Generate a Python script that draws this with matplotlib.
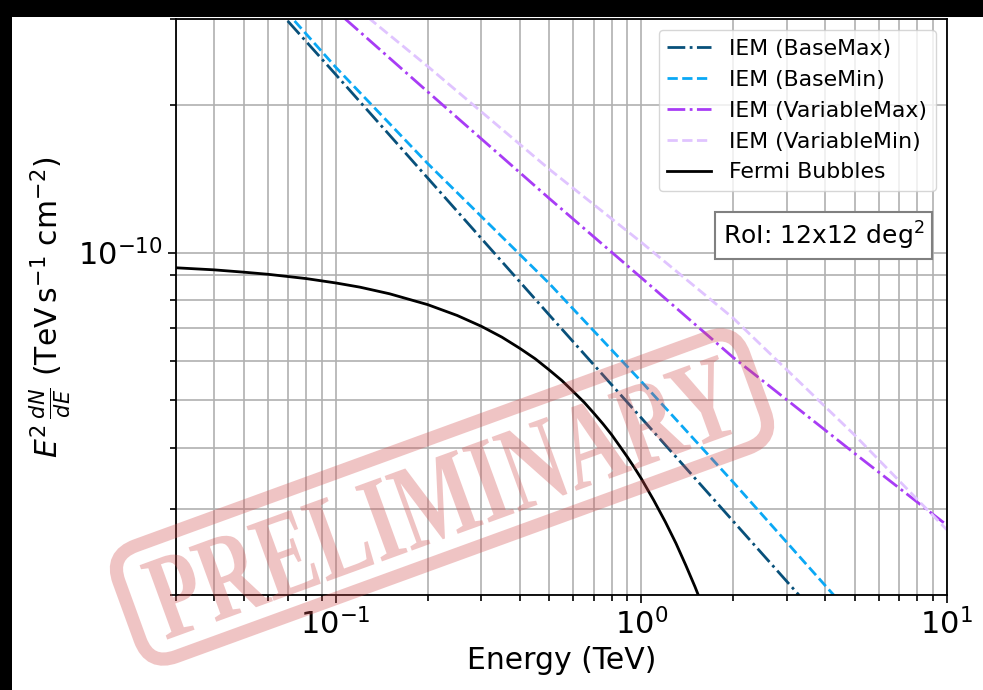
import matplotlib
matplotlib.use('Agg')
import matplotlib.pyplot as plt
from matplotlib.patches import Rectangle, PathPatch, FancyBboxPatch
from matplotlib.textpath import TextPath
from matplotlib.font_manager import FontProperties
from matplotlib.transforms import Affine2D
from matplotlib.ticker import NullFormatter

energy_iem = [0.03, 0.05, 0.07, 0.1, 0.2, 0.5, 1.0, 2.0, 5.0, 10.0]
base_max = [5.36e-10, 3.74e-10, 2.96e-10, 2.31e-10, 1.42e-10, 7.46e-11, 4.60e-11, 2.83e-11, 1.49e-11, 9.18e-12]
base_min = [5.56e-10, 3.88e-10, 3.07e-10, 2.39e-10, 1.52e-10, 8.65e-11, 5.46e-11, 3.40e-11, 1.79e-11, 1.09e-11]
variable_max = [6.04e-10, 4.56e-10, 3.79e-10, 3.12e-10, 2.13e-10, 1.29e-10, 8.89e-11, 6.11e-11, 3.89e-11, 2.78e-11]
variable_min = [6.20e-10, 4.85e-10, 4.10e-10, 3.42e-10, 2.40e-10, 1.48e-10, 1.05e-10, 7.35e-11, 4.24e-11, 2.72e-11]

# Fermi bubbles spectrum
energy_fb = [0.03, 0.04, 0.05, 0.06, 0.08, 0.1, 0.12, 0.15, 0.2, 0.25, 0.3, 0.35, 0.4, 0.45, 0.5,
             0.55, 0.6, 0.65, 0.7, 0.75, 0.8, 0.85, 0.9, 0.95, 1.0, 1.1, 1.2, 1.3, 1.4, 1.5, 1.6]
fermi_bubbles = [9.31e-11, 9.22e-11, 9.12e-11, 9.03e-11, 8.85e-11, 8.67e-11, 8.50e-11, 8.24e-11, 7.83e-11,
                 7.44e-11, 7.07e-11, 6.72e-11, 6.38e-11, 6.07e-11, 5.76e-11, 5.48e-11, 5.20e-11, 4.95e-11,
                 4.70e-11, 4.47e-11, 4.25e-11, 4.03e-11, 3.83e-11, 3.64e-11, 3.46e-11, 3.12e-11, 2.82e-11,
                 2.55e-11, 2.30e-11, 2.08e-11, 1.88e-11]

fig = plt.figure(figsize=(9.83, 6.9), dpi=100, facecolor='black')
fig.add_artist(Rectangle((12 / 983, 0), 1, 1 - 17 / 690, transform=fig.transFigure,
                         facecolor='white', edgecolor='none', zorder=-10))
ax = fig.add_axes([0.179, 0.1377, 0.784, 0.835])

ax.plot(energy_iem, base_max, color='#08507a', ls='-.', lw=2, label='IEM (BaseMax)')
ax.plot(energy_iem, base_min, color='#0aa8f5', ls='--', lw=2, label='IEM (BaseMin)')
ax.plot(energy_iem, variable_max, color='#a83cf5', ls='-.', lw=2, label='IEM (VariableMax)')
ax.plot(energy_iem, variable_min, color='#e0c4ff', ls='--', lw=2, label='IEM (VariableMin)')
ax.plot(energy_fb, fermi_bubbles, color='black', ls='-', lw=2, label='Fermi Bubbles')

ax.set_xscale('log')
ax.set_yscale('log')
ax.set_xlim(0.03, 10)
ax.set_ylim(2e-11, 3e-10)
ax.yaxis.set_minor_formatter(NullFormatter())
ax.xaxis.set_minor_formatter(NullFormatter())
ax.grid(True, which='both', color='#b0b0b0', lw=1.2)
ax.set_axisbelow(True)
for s in ax.spines.values():
    s.set_linewidth(1.3)
ax.tick_params(which='both', labelsize=22, width=1.2)
ax.tick_params(which='major', length=6)
ax.tick_params(which='minor', length=4)

ax.set_xlabel('Energy (TeV)', fontsize=21.5)
ax.set_ylabel(r'$E^2\,\frac{dN}{dE}$ (TeV$\,$s$^{-1}$ cm$^{-2}$)', fontsize=21.5)

ax.legend(loc='upper right', fontsize=15.8)
ax.text(0.84, 0.624, r'RoI: 12x12 deg$^2$', transform=ax.transAxes, fontsize=18,
        ha='center', va='center',
        bbox=dict(boxstyle='square,pad=0.3', facecolor='white', edgecolor='#808080', lw=1.5))

# preliminary stamp, drawn in pixel coordinates
stamp_col = (0.82, 0.3, 0.3)
angle = 20
cx, cy = 442, 690 - 497
tp = TextPath((0, 0), 'PRELIMINARY', size=100,
              prop=FontProperties(family='Liberation Serif', weight='bold'))
ext = tp.get_extents()
sx = 615 / ext.width
sy = 80 / ext.height
tr = (Affine2D().translate(-(ext.x0 + ext.x1) / 2, -(ext.y0 + ext.y1) / 2)
      .scale(sx, sy).rotate_deg(angle).translate(cx, cy))
fig.add_artist(PathPatch(tp, transform=tr, facecolor=stamp_col, edgecolor='none',
                         alpha=0.33, zorder=20))
bw, bh = 665, 118
frame = FancyBboxPatch((-bw / 2, -bh / 2), bw, bh, boxstyle='round,pad=0,rounding_size=28',
                       transform=Affine2D().rotate_deg(angle).translate(cx, cy),
                       facecolor='none', edgecolor=stamp_col, lw=9.5, alpha=0.33, zorder=20)
fig.add_artist(frame)

fig.savefig('out.png', dpi=100, facecolor=fig.get_facecolor())
